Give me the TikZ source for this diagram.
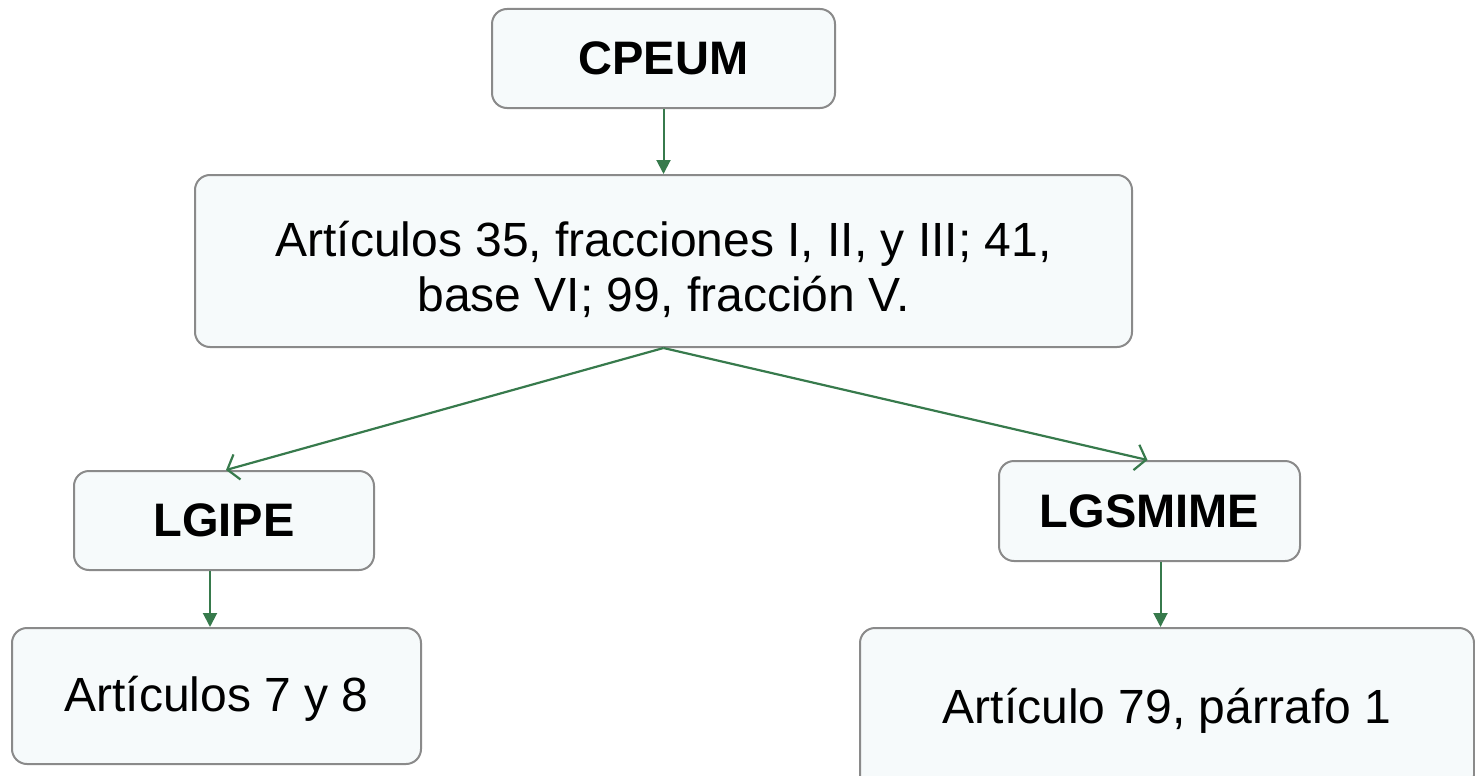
\documentclass[tikz,border=0pt]{standalone}
\usepackage{fontspec}
\setmainfont{Liberation Sans}
\usetikzlibrary{arrows.meta}
\definecolor{boxfill}{HTML}{F6FAFB}
\definecolor{boxline}{HTML}{8A8A8A}
\definecolor{arrgreen}{HTML}{377A4C}
\tikzset{
  box/.style={draw=boxline, line width=2pt, fill=boxfill, rounded corners=15pt,
    inner sep=0pt, align=center, font=\fontsize{48}{55}\selectfont},
  boldbox/.style={box, font=\fontsize{47}{55}\selectfont\bfseries},
  txt/.style={inner sep=0pt, align=center, font=\fontsize{48}{55}\selectfont},
  filledarr/.style={draw=arrgreen, line width=2pt, -{Triangle[length=14pt,width=14pt]}},
  openarr/.style={draw=arrgreen, line width=2.2pt, -{Straight Barb[length=10pt,width=26pt]}}
}
\begin{document}
\begin{tikzpicture}[x=1pt,y=-1pt]
\useasboundingbox (0,0) rectangle (1475,776);
\node[boldbox, minimum width=343pt, minimum height=99pt] (cpeum) at (663.5,58.5) {CPEUM};
\node[box, minimum width=937pt, minimum height=172pt] (art) at (663.5,261) {};
\node[txt] (arttext) at (663.5,269) {Artículos 35, fracciones I, II, y III; 41,\\ base VI; 99, fracción V.};
\node[boldbox, minimum width=300pt, minimum height=99pt] (lgipe) at (224,520.5) {LGIPE};
\node[box, minimum width=409pt, minimum height=136pt] (a7) at (216.5,696) {};
\node[txt] (a7text) at (216.5,699) {Artículos 7 y 8};
\node[boldbox, minimum width=301pt, minimum height=100pt] (lgsmime) at (1149.5,511) {LGSMIME};
\node[box, minimum width=614pt, minimum height=162pt] (a79) at (1167,709) {};
\node[txt] (a79text) at (1167,711) {Artículo 79, párrafo 1};
\draw[filledarr] (cpeum.south) -- (art.north);
\draw[openarr] (art.south) -- ([xshift=2pt]lgipe.north);
\draw[openarr] (art.south) -- ([xshift=-2pt]lgsmime.north);
\draw[filledarr] ([xshift=-14pt]lgipe.south) -- ([xshift=-14pt]lgipe.south |- a7.north);
\draw[filledarr] ([xshift=11pt]lgsmime.south) -- ([xshift=11pt]lgsmime.south |- a79.north);
\end{tikzpicture}
\end{document}
